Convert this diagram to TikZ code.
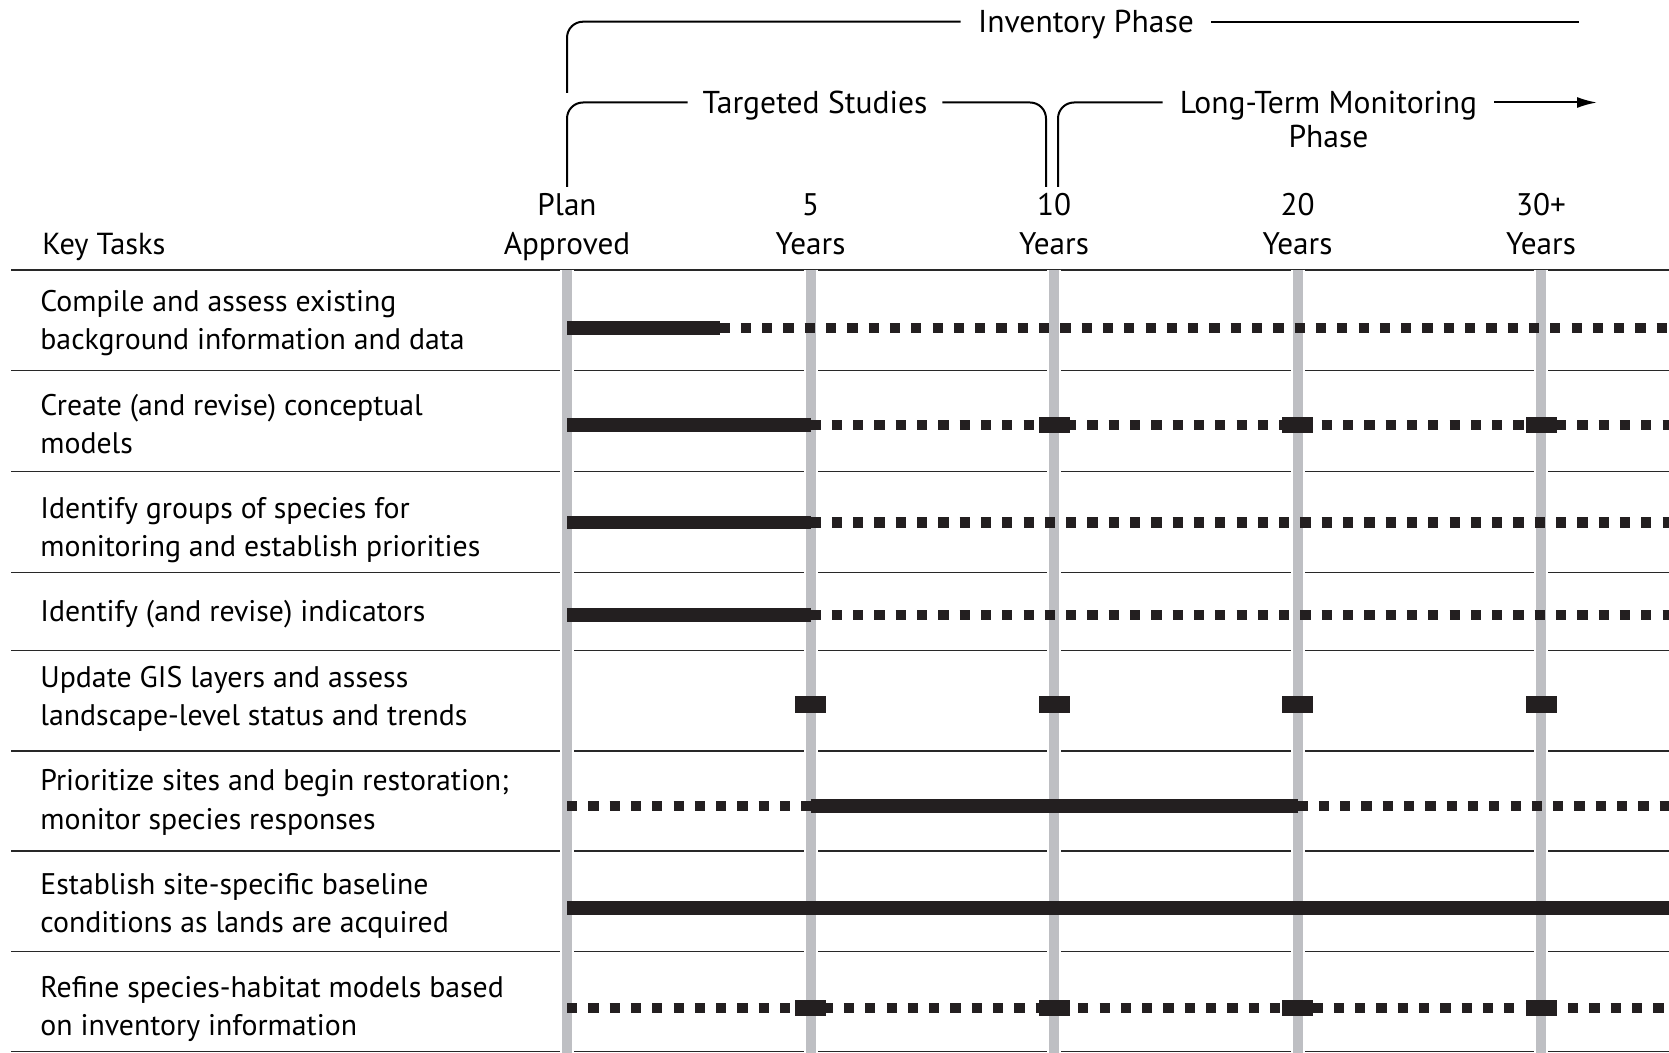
\documentclass[tikz,border=0pt]{standalone}
\usepackage{fontspec}
\setmainfont{PT Sans}
\usepackage{xcolor}
\usepackage{tikz}
\usetikzlibrary{positioning, calc, arrows.meta}
\definecolor{gridgray}{RGB}{190, 191, 195}
\definecolor{barblack}{RGB}{35, 31, 32}
\definecolor{rulegray}{RGB}{40, 40, 40}
\tikzset{
    tasktext/.style={
        anchor=base west, align=left, inner sep=0pt,
        font=\fontsize{14.9}{19.1}\selectfont
    },
    yeartext/.style={
        anchor=base, align=center, inner sep=0pt,
        font=\fontsize{15.6}{19.6}\selectfont
    },
    phasetext/.style={
        anchor=base, align=center, inner sep=0pt,
        font=\fontsize{15.8}{17}\selectfont
    },
    rowrule/.style={
        line width=0.85pt, rulegray
    },
    gridbar/.style={
        line width=5pt, gridgray, preaction={draw=white, line width=7pt}
    }
}

\begin{document}
\begin{tikzpicture}[
        x=0.5pt, y=-0.5pt,
        % --- STYLE ---
        solidbar/.style={line width=6.7pt, barblack},
        dotbar/.style={line width=5.2pt, barblack, dash pattern=on 5.1pt off 5.55pt},
        tickbox/.style={fill=barblack},
        bracket/.style={line width=1pt, black, rounded corners=8pt}
    ]
        \path[fill=white, use as bounding box] (0,0) rectangle (1669,1053);

        % --- 1. HEADER ---
        \node[tasktext, font=\fontsize{15.2}{19}\selectfont] (keytasks) at (42,254.3) {Key Tasks};
        \node[yeartext] (yr0) at (567,254.3) {Plan\\Approved};
        \node[yeartext] (yr1) at (810.5,254.3) {5\\Years};
        \node[yeartext] (yr2) at (1054,254.3) {10\\Years};
        \node[yeartext] (yr3) at (1297.5,254.3) {20\\Years};
        \node[yeartext] (yr4) at (1541,254.3) {30+\\Years};

        % --- 2. PHASE BRACKETS ---
        \coordinate (invfoot) at (567,93);
        \coordinate (invend) at (1579,21.7);
        \coordinate (targfoot) at (567,187);
        \coordinate (targend) at (1046,187);
        \coordinate (ltmfoot) at (1058,187);
        \coordinate (ltmtip) at (1597,102.5);
        \node[phasetext, minimum width=125pt] (inv) at (1086,32.3) {Inventory Phase};
        \node[phasetext, minimum width=127pt] (targ) at (815,114) {Targeted Studies};
        \node[phasetext, minimum width=165.5pt] (ltm) at (1328.5,147.6) {Long-Term Monitoring\\Phase};
        \draw[bracket] (inv.west |- invend) -| (invfoot);
        \draw[bracket] (inv.east |- invend) -- (invend);
        \draw[bracket] (targ.west |- ltmtip) -| (targfoot);
        \draw[bracket] (targ.east |- ltmtip) -| (targend);
        \draw[bracket] (ltm.west |- ltmtip) -| (ltmfoot);
        \draw[line width=1pt, -{Latex[length=10pt, width=5.5pt]}] (ltm.east |- ltmtip) -- (ltmtip);

        % --- 3. KEY TASKS ---
        \node[tasktext] (task1) at (40,350) {Compile and assess existing\\background information and data};
        \node[tasktext] (task2) at (40,453.4) {Create (and revise) conceptual\\models};
        \node[tasktext] (task3) at (40,556.6) {Identify groups of species for\\monitoring and establish priorities};
        \node[tasktext] (task4) at (40,621.6) {Identify (and revise) indicators};
        \node[tasktext] (task5) at (40,725.6) {Update GIS layers and assess\\landscape-level status and trends};
        \node[tasktext] (task6) at (40,829) {Prioritize sites and begin restoration;\\monitor species responses};
        \node[tasktext] (task7) at (40,932.4) {Establish site-specific baseline\\conditions as lands are acquired};
        \node[tasktext] (task8) at (40,1035.6) {Refine species-habitat models based\\on inventory information};

        % --- 4. RULES AND GRID ---
        \foreach \y in {270, 370.4, 471.5, 572.6, 650.6, 751.2, 851.2, 951.6, 1051.6}
            \draw[rowrule] (11,\y) -- (1669,\y);
        \foreach \i in {0,...,4}
            \draw[gridbar] (yr\i |- 0,270) -- (yr\i |- 0,1053);

        % --- 5. BARS ---
        % row 1
        \draw[solidbar] (567,328) -- (719.5,328);
        \draw[dotbar] (719.5,328) -- (1669,328);
        % rows 2-4
        \foreach \y in {425, 522.6, 615} {
            \draw[solidbar] (567,\y) -- (810.5,\y);
            \draw[dotbar] (810.5,\y) -- (1669,\y);
        }
        % row 6
        \draw[dotbar] (567,806) -- (810.5,806);
        \draw[solidbar] (810.5,806) -- (1297.5,806);
        \draw[dotbar] (1297.5,806) -- (1669,806);
        % row 7
        \draw[solidbar] (567,908) -- (1669,908);
        % row 8
        \draw[dotbar] (567,1008) -- (1669,1008);

        % --- 6. TICK BLOCKS ---
        \foreach \i in {2,3,4}
            \fill[tickbox] ($(yr\i |- 0,425)+(-15.5,-8.25)$) rectangle +(31,16.5);
        \foreach \i in {1,...,4} {
            \fill[tickbox] ($(yr\i |- 0,704.6)+(-15.5,-8.25)$) rectangle +(31,16.5);
            \fill[tickbox] ($(yr\i |- 0,1008)+(-15.5,-8.25)$) rectangle +(31,16.5);
        }

    \end{tikzpicture}
\end{document}
